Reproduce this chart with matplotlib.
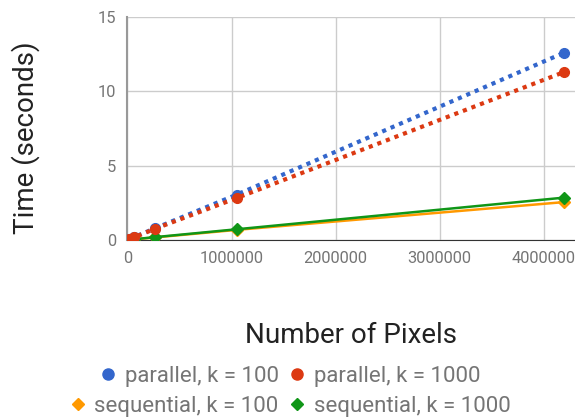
import matplotlib.pyplot as plt
from matplotlib.lines import Line2D

plt.rcParams['font.family'] = ['Roboto', 'DejaVu Sans']

# data
pixels = [16384, 65536, 262144, 1048576, 4194304]
par_100 = [0.05, 0.2, 0.78, 3.05, 12.6]
par_1000 = [0.05, 0.18, 0.75, 2.82, 11.3]
seq_100 = [0.01, 0.05, 0.17, 0.68, 2.55]
seq_1000 = [0.01, 0.05, 0.19, 0.72, 2.85]

blue, red, orange, green = "#3366CC", "#DC3912", "#FF9900", "#109618"
grey = "#757575"

fig = plt.figure(figsize=(5.75, 4.17), dpi=100)
ax = fig.add_axes([0.2217, 0.4245, 0.7783, 0.5345])

ax.plot(pixels, seq_100, color=orange, lw=1.8, marker="D", ms=6, zorder=3)
ax.plot(pixels, seq_1000, color=green, lw=1.8, marker="D", ms=6, zorder=4)
ax.plot(pixels, par_100, color=blue, lw=3, ls=(0, (1, 1.2)), marker="o", ms=7, zorder=5)
ax.plot(pixels, par_1000, color=red, lw=3, ls=(0, (1, 1.2)), marker="o", ms=7, zorder=6)

ax.set_xlim(0, 4.3e6)
ax.set_ylim(0, 15)
ax.set_xticks([0, 1000000, 2000000, 3000000, 4000000])
ax.set_xticklabels(["0", "1000000", "2000000", "3000000", "4000000"])
ax.set_yticks([0, 5, 10, 15])
ax.grid(True, color="#cccccc", lw=1)
ax.set_axisbelow(True)
for s in ["top", "right"]:
    ax.spines[s].set_visible(False)
ax.spines["left"].set_color("#999999")
ax.spines["left"].set_linewidth(1.5)
ax.spines["bottom"].set_color("#333333")
ax.tick_params(length=0, labelsize=11.8, colors=grey, pad=8)

ax.set_xlabel("Number of Pixels", fontsize=20, color="#222222", labelpad=40)
fig.text(0.045, 0.671, "Time (seconds)", rotation=90, ha="center", va="center",
         fontsize=20, color="#222222")

def handle(c, m):
    return Line2D([], [], color=c, marker=m, ls="none", ms=8 if m == "o" else 6)

kw = dict(ncol=2, frameon=False, fontsize=16, handlelength=0.7, handletextpad=0.4,
          columnspacing=0.5, labelcolor=grey, loc="center")
fig.legend([handle(blue, "o"), handle(red, "o")],
           ["parallel, k = 100", "parallel, k = 1000"], bbox_to_anchor=(0.505, 0.098), **kw)
fig.legend([handle(orange, "D"), handle(green, "D")],
           ["sequential, k = 100", "sequential, k = 1000"], bbox_to_anchor=(0.505, 0.026), **kw)

fig.savefig("out.png", dpi=100)
